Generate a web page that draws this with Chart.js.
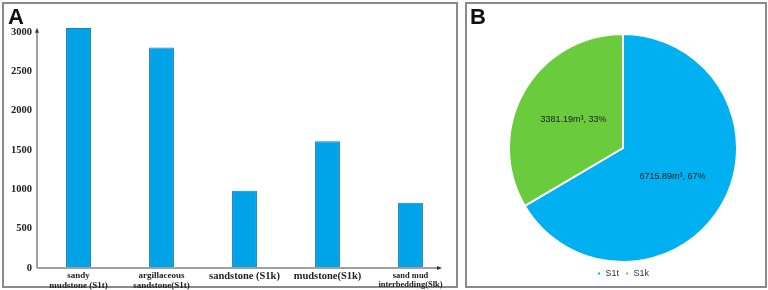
<!DOCTYPE html>
<html>
<head>
<meta charset="utf-8">
<script src="https://cdn.jsdelivr.net/npm/chart.js"></script>
<style>
  body { margin: 0; width: 768px; height: 290px; background: #fff; position: relative; overflow: hidden; }
  .panel { position: absolute; border: 2px solid #8a8a8a; box-sizing: border-box; }
  .tag { position: absolute; font-family: 'Liberation Sans', Arial, sans-serif; font-weight: bold; font-size: 22px; color: #111; }
  canvas { position: absolute; }
</style>
</head>
<body>
<div class="panel" style="left:2px;top:2px;width:456px;height:286px;"></div>
<div class="panel" style="left:465px;top:2px;width:302px;height:286px;"></div>
<canvas id="barChart" style="left:0;top:0;width:456px;height:290px;" width="456" height="290"></canvas>
<canvas id="pieChart" style="left:463px;top:0;width:305px;height:290px;" width="305" height="290"></canvas>
<div class="tag" style="left:8px;top:4px;">A</div>
<div class="tag" style="left:470px;top:4px;">B</div>
<script>
// datos panel A
const categorias = [
  ['sandy', 'mudstone (S1t)'],
  ['argillaceous', 'sandstone(S1t)'],
  'sandstone (S1k)',
  'mudstone(S1k)',
  ['sand mud', 'interbedding(Slk)'],
];
const volumenes = [3050, 2800, 980, 1610, 830];
const ticksY = [0, 500, 1000, 1500, 2000, 2500, 3000];

// datos panel B
const unidades = ['S1t', 'S1k'];
const volumenUnidad = [6715.89, 3381.19];
const porcentajes = [67, 33];

const serif = "'Liberation Serif', 'Times New Roman', serif";

// ejes con flecha
const axisArrows = {
  id: 'axisArrows',
  afterDraw(chart) {
    const { ctx, chartArea } = chart;
    const x0 = chartArea.left;
    const y0 = chartArea.bottom;
    const yTop = chart.scales.y.getPixelForValue(3000) - 1;
    const xEnd = 438;
    ctx.save();
    ctx.strokeStyle = '#a0a0a0';
    ctx.lineWidth = 2;
    ctx.beginPath();
    ctx.moveTo(x0, y0);
    ctx.lineTo(x0, yTop);
    ctx.moveTo(x0, y0);
    ctx.lineTo(xEnd, y0);
    ctx.stroke();
    ctx.fillStyle = '#333';
    ctx.beginPath();
    ctx.moveTo(x0, yTop - 3);
    ctx.lineTo(x0 - 2, yTop + 2);
    ctx.lineTo(x0 + 2, yTop + 2);
    ctx.fill();
    ctx.beginPath();
    ctx.moveTo(xEnd + 4, y0);
    ctx.lineTo(xEnd - 1, y0 - 2);
    ctx.lineTo(xEnd - 1, y0 + 2);
    ctx.fill();
    ctx.restore();
  },
};

new Chart(document.getElementById('barChart'), {
  type: 'bar',
  data: {
    labels: categorias,
    datasets: [
      {
        data: volumenes,
        backgroundColor: '#00a2e8',
        borderColor: '#1381bf',
        borderWidth: 1,
        barPercentage: 0.3,
        categoryPercentage: 1,
      },
    ],
  },
  options: {
    responsive: false,
    animation: false,
    layout: { padding: { left: 0, right: 4, top: 24, bottom: 0 } },
    plugins: { legend: { display: false }, tooltip: { enabled: false } },
    scales: {
      x: {
        grid: { display: false, drawTicks: false },
        border: { display: false },
        afterFit: (s) => { s.height = 22; },
        ticks: {
          color: '#222',
          maxRotation: 0,
          autoSkip: false,
          padding: 3,
          font: (ctx) => {
            const i = ctx.index;
            if (i === 2 || i === 3) return { family: serif, size: 10.5, weight: 'bold', lineHeight: 1 };
            if (i === 4) return { family: serif, size: 8.5, weight: 'bold', lineHeight: 1.05 };
            return { family: serif, size: 9, weight: 'bold', lineHeight: 1.05 };
          },
        },
      },
      y: {
        min: 0,
        max: 3100,
        afterFit: (s) => { s.width = 37; },
        afterBuildTicks: (s) => { s.ticks = ticksY.map((v) => ({ value: v })); },
        grid: { display: false, drawTicks: false },
        border: { display: false },
        ticks: {
          color: '#222',
          padding: 5,
          callback: (v) => String(v),
          font: { family: serif, size: 10.5, weight: 'bold' },
        },
      },
    },
  },
  plugins: [axisArrows],
});

// etiquetas dentro del pastel
const pieLabels = {
  id: 'pieLabels',
  afterDatasetsDraw(chart) {
    const { ctx } = chart;
    const meta = chart.getDatasetMeta(0);
    ctx.save();
    ctx.fillStyle = '#222';
    ctx.font = "9px 'Liberation Sans', Arial, sans-serif";
    ctx.textAlign = 'center';
    ctx.textBaseline = 'middle';
    meta.data.forEach((arc, i) => {
      const p = arc.tooltipPosition();
      ctx.fillText(volumenUnidad[i].toFixed(2) + 'm³, ' + porcentajes[i] + '%', p.x, p.y);
    });
    ctx.restore();
  },
};

new Chart(document.getElementById('pieChart'), {
  type: 'pie',
  data: {
    labels: unidades,
    datasets: [
      {
        data: volumenUnidad,
        backgroundColor: ['#00b0f0', '#6acb3c'],
        borderColor: '#ffffff',
        borderWidth: 2,
      },
    ],
  },
  options: {
    responsive: false,
    animation: false,
    layout: { padding: { left: 45, right: 30, top: 33, bottom: 2 } },
    plugins: {
      tooltip: { enabled: false },
      legend: {
        position: 'bottom',
        labels: {
          boxWidth: 4,
          boxHeight: 4,
          padding: 6,
          color: '#333',
          font: { family: "'Liberation Sans', Arial, sans-serif", size: 9 },
        },
      },
    },
  },
  plugins: [pieLabels],
});
</script>
</body>
</html>
